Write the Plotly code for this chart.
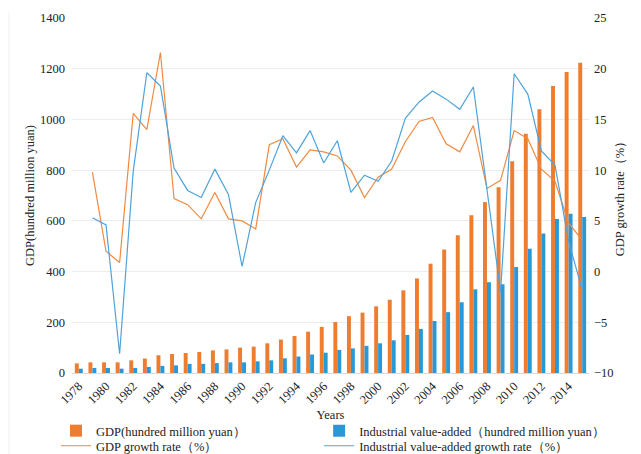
import plotly.graph_objects as go

years = list(range(1978, 2016))
gdp = [38, 42, 42, 42, 50, 57, 70, 75, 79, 83, 89, 93, 100, 104, 117, 132, 146, 163, 182, 201,
       224, 238, 263, 289, 326, 373, 431, 487, 543, 622, 674, 733, 835, 944, 1040, 1132, 1187, 1224]
ind = [17, 20, 20, 17, 20, 24, 28, 30, 36, 36, 39, 42, 42, 46, 50, 58, 65, 73, 80, 91,
       97, 107, 117, 129, 150, 174, 205, 240, 279, 330, 358, 350, 418, 490, 550, 607, 628, 615]
gdp_growth = [None, 9.8, 2.0, 0.9, 15.6, 14.0, 21.6, 7.2, 6.6, 5.2, 7.8, 5.2, 5.0, 4.2, 12.5, 13.1,
              10.3, 12.0, 11.8, 11.4, 10.0, 7.3, 9.3, 10.1, 12.8, 14.8, 15.2, 12.6, 11.8, 14.4,
              8.2, 9.0, 13.9, 13.1, 10.1, 8.9, 4.8, 3.1]
ind_growth = [None, 5.3, 4.6, -8.1, 9.9, 19.6, 18.3, 10.2, 8.0, 7.3, 10.1, 7.6, 0.5, 6.8, 10.0, 13.4,
              11.7, 13.9, 10.7, 12.9, 7.8, 9.5, 8.9, 10.9, 15.1, 16.7, 17.8, 17.0, 16.0, 18.2,
              8.1, -2.0, 19.5, 17.5, 11.9, 10.5, 3.0, -1.8]
tick_years = list(range(1978, 2015, 2))
tick_labels = [str(y) for y in tick_years]

ORANGE = "#ED7D31"
BLUE = "#2B98D6"
ORANGE_LINE = "#F08A42"
BLUE_LINE = "#4FA3DA"
FONT = "Liberation Serif"
TXT = "#222222"

fig = go.Figure()
fig.add_trace(go.Bar(x=years, y=gdp, name="GDP(hundred million yuan）", showlegend=True,
                     marker=dict(color=ORANGE, line=dict(width=0)), legend="legend"))
fig.add_trace(go.Bar(x=years, y=ind, name="Industrial value-added（hundred million yuan）",
                     showlegend=True,
                     marker=dict(color=BLUE, line=dict(width=0)), legend="legend2"))
fig.add_trace(go.Scatter(x=years, y=gdp_growth, name="GDP growth rate（%）", mode="lines",
                         showlegend=True,
                         line=dict(color=ORANGE_LINE, width=1.2), yaxis="y2", legend="legend3"))
fig.add_trace(go.Scatter(x=years, y=ind_growth, name="Industrial value-added growth rate（%）",
                         mode="lines", showlegend=True,
                         line=dict(color=BLUE_LINE, width=1.2), yaxis="y2",
                         legend="legend4"))

leg_common = dict(font=dict(family=FONT, size=12.5, color=TXT), bgcolor="rgba(0,0,0,0)",
                  xanchor="left", yanchor="middle", itemwidth=30, orientation="v")
x1, x2 = -0.031, 0.478
r1, r2 = -0.1635, -0.206

fig.update_layout(
    width=641, height=454,
    showlegend=True,
    margin=dict(l=72, r=52, t=18, b=81, autoexpand=False),
    plot_bgcolor="white", paper_bgcolor="white",
    font=dict(family=FONT, size=12, color=TXT),
    barmode="group", bargap=0.42, bargroupgap=0.0,
    xaxis=dict(
        range=[1977.5, 2015.5], tickmode="array", tickvals=tick_years, ticktext=tick_labels,
        tickangle=-45, showgrid=False, showline=True, linecolor="#d9d9d9", linewidth=1,
        ticks="", tickfont=dict(family=FONT, size=12.5, color=TXT), automargin=False,
        title=dict(text="Years", font=dict(family=FONT, size=12.5, color=TXT), standoff=4),
    ),
    yaxis=dict(
        range=[0, 1400], dtick=200, showgrid=True, gridcolor="#ececec", gridwidth=1,
        zeroline=False, showline=False, ticks="", automargin=False, ticklabelstandoff=6,
        tickfont=dict(family=FONT, size=12.5, color=TXT),
        title=dict(text="GDP(hundred million yuan)", standoff=2,
                   font=dict(family=FONT, size=12.5, color=TXT)),
    ),
    yaxis2=dict(
        range=[-10, 25], dtick=5, overlaying="y", side="right", showgrid=False,
        zeroline=False, showline=False, ticks="", automargin=False, ticklabelstandoff=4,
        tickfont=dict(family=FONT, size=12.5, color=TXT),
        title=dict(text="GDP growth rate（%）", standoff=2,
                   font=dict(family=FONT, size=12.5, color=TXT)),
    ),
    legend=dict(x=x1, y=r1, **leg_common),
    legend2=dict(x=x2, y=r1, **leg_common),
    legend3=dict(x=x1, y=r2, **leg_common),
    legend4=dict(x=x2, y=r2, **leg_common),
    shapes=[dict(type="line", xref="paper", yref="paper", x0=-0.122, x1=-0.122,
                 y0=-0.23, y1=1.015, line=dict(color="#efefef", width=1))],
)

fig.write_html("out.html", config={"displayModeBar": False},
               post_script="document.body.style.margin='0';")
